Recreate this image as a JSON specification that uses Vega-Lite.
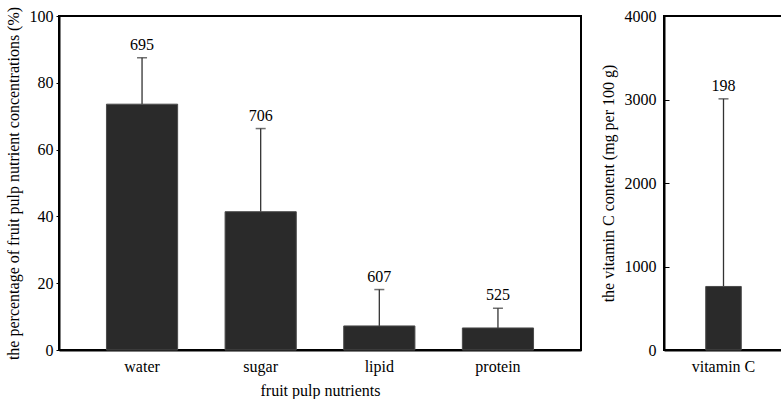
{
  "$schema": "https://vega.github.io/schema/vega-lite/v6.json",
  "padding": {"left": 4, "top": 5, "right": 0, "bottom": 0},
  "background": "white",
  "spacing": 17,
  "config": {
    "font": "Liberation Serif",
    "view": {"stroke": "black", "strokeWidth": 2},
    "axis": {"grid": false, "labelFont": "Liberation Serif", "titleFont": "Liberation Serif", "labelFontSize": 16, "titleFontSize": 16, "titleFontWeight": "normal", "labelColor": "black", "titleColor": "black", "domainColor": "black", "domainWidth": 2, "tickColor": "black"}
  },
  "datasets": {
    "pulp": [
      {"nutrient": "water", "mean": 73.6, "upper": 87.5, "n": "695"},
      {"nutrient": "sugar", "mean": 41.4, "upper": 66.3, "n": "706"},
      {"nutrient": "lipid", "mean": 7.2, "upper": 18.1, "n": "607"},
      {"nutrient": "protein", "mean": 6.6, "upper": 12.5, "n": "525"}
    ],
    "vitc": [
      {"nutrient": "vitamin C", "mean": 761, "upper": 3008, "n": "198"}
    ]
  },
  "hconcat": [
    {
      "width": 522,
      "height": 334,
      "data": {"name": "pulp"},
      "encoding": {
        "x": {"field": "nutrient", "type": "nominal", "sort": null,
              "scale": {"paddingInner": 0.4, "paddingOuter": 0.4},
              "axis": {"title": "fruit pulp nutrients", "labelAngle": 0, "ticks": false, "labelPadding": 8, "titlePadding": 8}}
      },
      "layer": [
        {"mark": {"type": "rule", "color": "#333", "strokeWidth": 1.3},
         "encoding": {"y": {"field": "mean", "type": "quantitative"}, "y2": {"field": "upper"}}},
        {"mark": {"type": "bar", "fill": "#2a2a2a", "stroke": "#4a4a4a", "strokeWidth": 1},
         "encoding": {"y": {"field": "mean", "type": "quantitative", "scale": {"domain": [0, 100], "nice": false},
           "axis": {"title": "the percentage of fruit pulp nutrient concentrations (%)", "values": [0, 20, 40, 60, 80, 100], "tickSize": 3, "labelPadding": 3, "titlePadding": 8}}}},
        {"mark": {"type": "tick", "color": "#333", "size": 10, "thickness": 1.5},
         "encoding": {"y": {"field": "upper", "type": "quantitative"}}},
        {"mark": {"type": "text", "baseline": "bottom", "dy": -5, "fontSize": 16, "font": "Liberation Serif", "color": "black"},
         "encoding": {"y": {"field": "upper", "type": "quantitative"}, "text": {"field": "n"}}}
      ]
    },
    {
      "width": 119,
      "height": 334,
      "data": {"name": "vitc"},
      "encoding": {
        "x": {"field": "nutrient", "type": "nominal",
              "scale": {"paddingInner": 0.54, "paddingOuter": 0.54},
              "axis": {"title": null, "labelAngle": 0, "ticks": false, "labelPadding": 8}}
      },
      "layer": [
        {"mark": {"type": "rule", "color": "#333", "strokeWidth": 1.3},
         "encoding": {"y": {"field": "mean", "type": "quantitative"}, "y2": {"field": "upper"}}},
        {"mark": {"type": "bar", "fill": "#2a2a2a", "stroke": "#4a4a4a", "strokeWidth": 1},
         "encoding": {"y": {"field": "mean", "type": "quantitative", "scale": {"domain": [0, 4000], "nice": false},
           "axis": {"title": "the vitamin C content (mg per 100 g)", "format": "d", "values": [0, 1000, 2000, 3000, 4000], "tickSize": -5, "labelPadding": 13, "titlePadding": 8}}}},
        {"mark": {"type": "tick", "color": "#333", "size": 10, "thickness": 1.5},
         "encoding": {"y": {"field": "upper", "type": "quantitative"}}},
        {"mark": {"type": "text", "baseline": "bottom", "dy": -5, "fontSize": 16, "font": "Liberation Serif", "color": "black"},
         "encoding": {"y": {"field": "upper", "type": "quantitative"}, "text": {"field": "n"}}}
      ]
    }
  ]
}
